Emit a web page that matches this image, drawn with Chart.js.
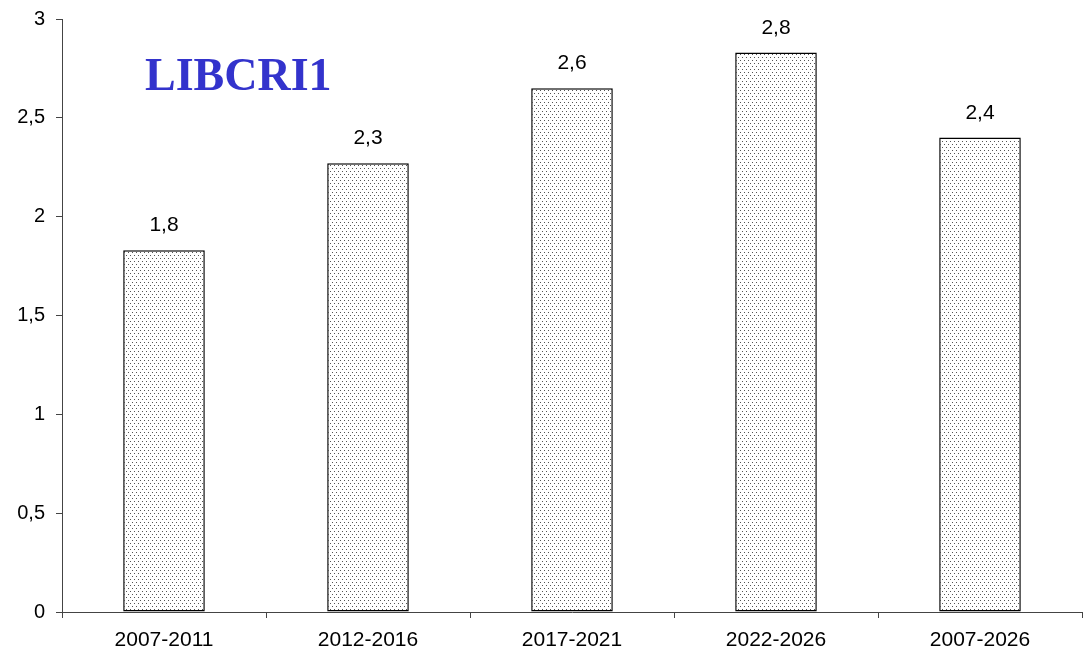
<!DOCTYPE html>
<html>
<head>
<meta charset="utf-8">
<script src="https://cdn.jsdelivr.net/npm/chart.js@4/dist/chart.umd.min.js"></script>
<style>
  html, body { margin: 0; padding: 0; background: #fff; }
  #wrap { width: 1084px; height: 654px; }
</style>
</head>
<body>
<div id="wrap"><canvas id="chart"></canvas></div>
<script>
const categories = ['2007-2011', '2012-2016', '2017-2021', '2022-2026', '2007-2026'];
const values = [1.83, 2.27, 2.65, 2.83, 2.40];
const yTicks = [0, 0.5, 1, 1.5, 2, 2.5, 3];

const FONT = '"Liberation Sans", Arial, sans-serif';

// dotted fill like the original
function dotPattern() {
  const c = document.createElement('canvas');
  c.width = 4; c.height = 6;
  const g = c.getContext('2d');
  g.fillStyle = '#fff';
  g.fillRect(0, 0, 4, 6);
  g.fillStyle = '#555';
  g.fillRect(0, 0, 1, 1);
  g.fillRect(2, 3, 1, 1);
  return g.createPattern(c, 'repeat');
}

const comma = v => v.toString().replace('.', ',');

const extras = {
  id: 'extras',
  afterDatasetsDraw(chart) {
    const ctx = chart.ctx;
    ctx.save();
    ctx.fillStyle = '#000';
    ctx.font = '21px ' + FONT;
    ctx.textAlign = 'center';
    ctx.textBaseline = 'alphabetic';
    chart.getDatasetMeta(0).data.forEach((bar, i) => {
      ctx.fillText(comma(values[i].toFixed(1)), bar.x, bar.y - 19);
    });
    // title sits inside the plot
    ctx.fillStyle = '#3333CC';
    ctx.font = 'bold 46px "Liberation Serif", "Times New Roman", serif';
    ctx.textAlign = 'left';
    ctx.fillText('LIBCRI1', 145, 90);
    ctx.restore();
  }
};

new Chart(document.getElementById('chart'), {
  type: 'bar',
  data: {
    labels: categories,
    datasets: [{
      data: values,
      backgroundColor: dotPattern(),
      borderColor: '#000',
      borderWidth: 1.5,
      borderSkipped: false,
      barPercentage: 0.8,
      categoryPercentage: 0.5
    }]
  },
  options: {
    responsive: true,
    maintainAspectRatio: false,
    animation: false,
    layout: { padding: { top: 19, right: 2, left: 0, bottom: 0 } },
    plugins: { legend: { display: false }, tooltip: { enabled: false } },
    scales: {
      x: {
        grid: { drawOnChartArea: false, tickLength: 6, color: '#444', offset: true },
        border: { color: '#444', width: 1 },
        ticks: { color: '#000', font: { size: 21, family: FONT }, padding: 10 },
        afterFit: s => { s.height = 42; s.paddingLeft = 0; s.paddingRight = 0; }
      },
      y: {
        min: 0, max: 3,
        afterBuildTicks: s => { s.ticks = yTicks.map(v => ({ value: v })); },
        grid: { drawOnChartArea: false, tickLength: 6, color: '#444' },
        border: { color: '#444', width: 1 },
        ticks: {
          color: '#000',
          font: { size: 20, family: FONT },
          padding: 11,
          callback: v => comma(v)
        },
        afterFit: s => { s.width = 62; s.paddingTop = 0; s.paddingBottom = 0; }
      }
    }
  },
  plugins: [extras]
});
</script>
</body>
</html>
